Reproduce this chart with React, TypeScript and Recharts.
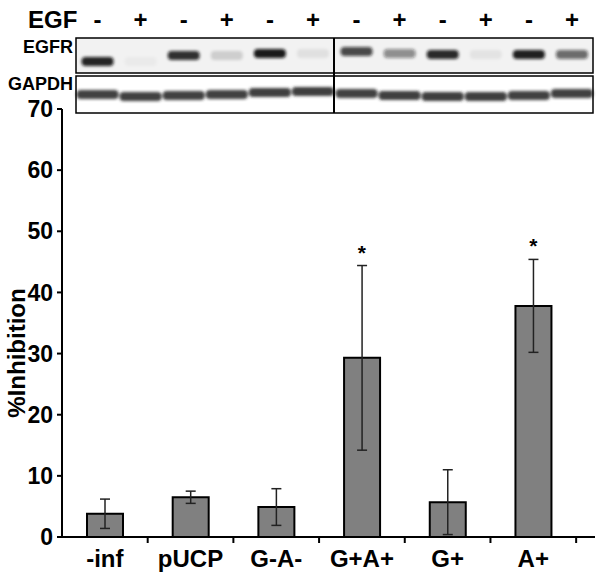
import { ComposedChart, Bar, ErrorBar, Scatter, XAxis, YAxis, Label } from "recharts"

// bar chart values
const categories = ["-inf", "pUCP", "G-A-", "G+A+", "G+", "A+"]
const inhibition = [3.8, 6.5, 4.9, 29.3, 5.7, 37.8]
const errors = [2.4, 1.0, 3.0, 15.1, 5.3, 7.6]
const significant = [false, false, false, true, false, true]
const yTicks = [0, 10, 20, 30, 40, 50, 60, 70]

// blot header
const egfSigns = ["-", "+", "-", "+", "-", "+", "-", "+", "-", "+", "-", "+"]
const egfrIntensity = [0.9, 0.03, 0.85, 0.15, 0.95, 0.07, 0.75, 0.45, 0.88, 0.06, 0.92, 0.6]
const egfrOffset = [8, 8, 2, 2, 0, 0, -2, 0, 1, 1, 1, 1]
const gapdhIntensity = [0.85, 0.85, 0.85, 0.85, 0.88, 0.88, 0.85, 0.88, 0.88, 0.88, 0.85, 0.85]
const gapdhOffset = [1, 3, 2, 1, -1, -2, 0, 2, 3, 3, 2, 0]

const data = categories.map((name, i) => ({
  name,
  x: i + 0.5,
  value: inhibition[i],
  err: errors[i],
}))

const starData = data
  .filter((_, i) => significant[i])
  .map((d) => ({ x: d.x, top: d.value + d.err }))

const font = "'Liberation Sans', Arial, sans-serif"

const xTicks = [0.5, 1, 1.5, 2, 2.5, 3, 3.5, 4, 4.5, 5, 5.5, 6]

function XTick(props: any) {
  const { x, y, payload } = props
  const v = payload.value
  if (Number.isInteger(v)) {
    return <line x1={x} y1={y} x2={x} y2={y + 6} stroke="#000" strokeWidth={2} />
  }
  const label = categories[Math.floor(v)]
  return (
    <text x={x} y={y + 30} textAnchor="middle" fontSize={24} fontWeight="bold" fontFamily={font} fill="#000">
      {label}
    </text>
  )
}

function Star(props: any) {
  const { cx, cy } = props
  return (
    <text x={cx} y={cy - 6} textAnchor="middle" fontSize={21} fontWeight="bold" fontFamily={font} fill="#000">
      *
    </text>
  )
}

function Blot() {
  const panelLeft = 76
  const divider = 334
  const panelRight = 593
  const laneW = (panelRight - panelLeft) / 12
  const laneX = (i: number) => panelLeft + laneW * (i + 0.5) + (i < 6 ? 0 : 0.5)
  return (
    <svg width={602} height={120} style={{ position: "absolute", left: 0, top: 0 }}>
      <defs>
        <filter id="blur" x="-20%" y="-50%" width="140%" height="200%">
          <feGaussianBlur stdDeviation="1.6" />
        </filter>
      </defs>
      <text x={28} y={28} fontSize={24} fontWeight="bold" fontFamily={font} fill="#000">
        EGF
      </text>
      {egfSigns.map((s, i) => (
        <text key={i} x={laneX(i)} y={28} textAnchor="middle" fontSize={24} fontWeight="bold" fontFamily={font} fill="#000">
          {s}
        </text>
      ))}
      <text x={73} y={53} textAnchor="end" fontSize={18} fontWeight="bold" fontFamily={font} fill="#000">
        EGFR
      </text>
      <text x={73} y={90} textAnchor="end" fontSize={18} fontWeight="bold" fontFamily={font} fill="#000">
        GAPDH
      </text>
      <rect x={panelLeft} y={38} width={panelRight - panelLeft} height={35} fill="#f2f2f2" />
      <rect x={panelLeft} y={76} width={panelRight - panelLeft} height={37} fill="#fff" />
      <g filter="url(#blur)">
        {egfrIntensity.map((a, i) => (
          <rect key={"e" + i} x={laneX(i) - 16} y={49 + egfrOffset[i]} width={32} height={9} rx={4} fill="#111" opacity={a} />
        ))}
        {gapdhIntensity.map((a, i) => (
          <rect key={"g" + i} x={laneX(i) - 21} y={89 + gapdhOffset[i]} width={42} height={9} rx={4} fill="#222" opacity={a} />
        ))}
      </g>
      <rect x={panelLeft} y={38} width={panelRight - panelLeft} height={35} fill="none" stroke="#000" strokeWidth={1.5} />
      <rect x={panelLeft} y={76} width={panelRight - panelLeft} height={37} fill="none" stroke="#000" strokeWidth={1.5} />
      <line x1={divider} y1={38} x2={divider} y2={113} stroke="#000" strokeWidth={2} />
    </svg>
  )
}

export default function App() {
  return (
    <div style={{ position: "absolute", left: 0, top: 0, width: 602, height: 585, background: "#fff" }}>
      <ComposedChart width={602} height={585} data={data} margin={{ top: 109, right: 7, bottom: 0, left: 0 }}>
        <XAxis
          dataKey="x"
          type="number"
          domain={[0, 6.22]}
          ticks={xTicks}
          interval={0}
          tickLine={false}
          tickSize={0}
          tickMargin={0}
          tick={<XTick />}
          height={48}
          axisLine={{ stroke: "#000", strokeWidth: 2 }}
          allowDataOverflow
        />
        <YAxis
          domain={[0, 70]}
          ticks={yTicks}
          interval={0}
          width={62}
          tickSize={5}
          tickMargin={4}
          tick={{ fontSize: 23, fontWeight: "bold", fontFamily: font, fill: "#000" }}
          tickLine={{ stroke: "#000", strokeWidth: 2 }}
          axisLine={{ stroke: "#000", strokeWidth: 2 }}
        >
          <Label
            content={() => (
              <text
                x={25}
                y={353}
                transform="rotate(-90 25 353)"
                textAnchor="middle"
                fontSize={24}
                fontWeight="bold"
                fontFamily={font}
                fill="#000"
              >
                %Inhibition
              </text>
            )}
          />
        </YAxis>
        <Bar dataKey="value" barSize={36} fill="#808080" stroke="#000" strokeWidth={2} isAnimationActive={false}>
          <ErrorBar dataKey="err" width={5} stroke="#222" strokeWidth={1.5} direction="y" />
        </Bar>
        <Scatter data={starData} dataKey="top" shape={<Star />} isAnimationActive={false} />
      </ComposedChart>
      <Blot />
    </div>
  )
}
